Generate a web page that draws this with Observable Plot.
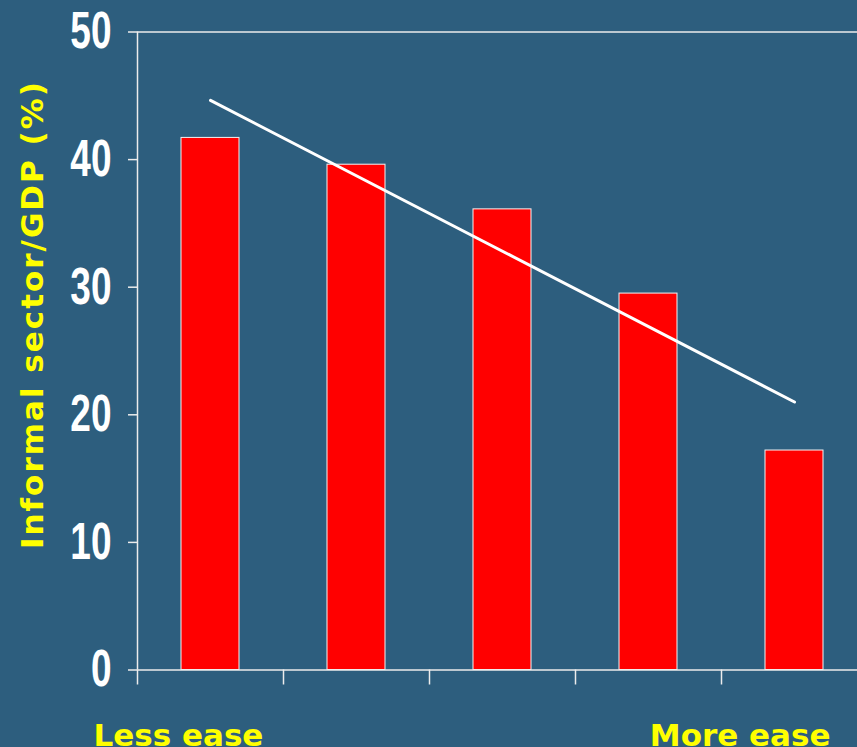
<!DOCTYPE html>
<html>
<head>
<meta charset="utf-8">
<script src="https://cdn.jsdelivr.net/npm/d3@7"></script>
<script src="https://cdn.jsdelivr.net/npm/@observablehq/plot@0.6"></script>
<style>
  html, body { margin: 0; padding: 0; background: #2D5E7E; overflow: hidden; }
</style>
</head>
<body>
<div id="chart"></div>
<script>
// Groups ordered from less ease to more ease (of doing business)
const groups = ["Group 1", "Group 2", "Group 3", "Group 4", "Group 5"];
const informalShare = [41.7, 39.6, 36.1, 29.5, 17.2];   // informal sector / GDP (%)
const yTicks = [0, 10, 20, 30, 40, 50];
const yTitle = "Informal sector/GDP (%)";
const leftLabel = "Less ease";
const rightLabel = "More ease";

const data = groups.map((g, i) => ({group: g, i, value: informalShare[i]}));

const bg = "#2D5E7E";
const lineColor = "#ececec";
const yellow = "#FFFF00";

const chart = Plot.plot({
  width: 857,
  height: 747,
  marginLeft: 137,
  marginRight: 0,
  marginTop: 31.5,
  marginBottom: 77.5,
  style: {background: bg, color: "white", fontFamily: "DejaVu Sans, sans-serif", overflow: "hidden"},
  x: {type: "linear", domain: [0, groups.length], range: [137, 867]},
  y: {domain: [0, 50]},
  marks: [
    Plot.rectY(data, {x: "i", y: "value", interval: 1, insetLeft: 44, insetRight: 44,
                      fill: "#FF0000", stroke: "#f4f4f4", strokeWidth: 1}),
    Plot.ruleY([0, 50], {stroke: lineColor, strokeWidth: 1.5}),
    Plot.ruleX([0], {stroke: lineColor, strokeWidth: 1.5}),
    Plot.axisY({ticks: yTicks, tickSize: 9, tickPadding: 17, stroke: lineColor, strokeWidth: 1.5,
                fontSize: 37, fontWeight: "bold", fontFamily: "Liberation Sans Narrow, Arial Narrow, sans-serif",
                fill: "white", label: null}),
    Plot.axisX({ticks: d3.range(groups.length), tickSize: 15, tickFormat: () => "", stroke: lineColor,
                strokeWidth: 1.5, label: null}),
    Plot.linearRegressionY(data, {x: d => d.i + 0.5, y: "value", ci: 0, stroke: "white",
                                  strokeWidth: 3, strokeLinecap: "round"}),
    Plot.text([yTitle], {frameAnchor: "left", textAnchor: "middle", rotate: -90, dx: -104, dy: -36.5,
                         fill: yellow, fontSize: 31, fontWeight: "bold"}),
    Plot.text([leftLabel], {frameAnchor: "bottom-left", textAnchor: "start", dx: -44, dy: 75.5,
                            fill: yellow, fontSize: 31, fontWeight: "bold"}),
    Plot.text([rightLabel], {frameAnchor: "bottom-right", textAnchor: "end", dx: -27, dy: 75.5,
                             fill: yellow, fontSize: 31, fontWeight: "bold"})
  ]
});

// condensed, tall tick numerals: stretch vertically around each label's anchor
d3.select(chart).selectAll('g[aria-label="y-axis tick label"] text').each(function () {
  const t = d3.select(this).attr("transform") || "";
  d3.select(this).attr("transform", t + " scale(1,1.38)");
});
// wider tracking on the y title
d3.select(chart).selectAll("text").filter(function () { return this.textContent === yTitle; })
  .style("letter-spacing", "2px");

document.getElementById("chart").appendChild(chart);
</script>
</body>
</html>
